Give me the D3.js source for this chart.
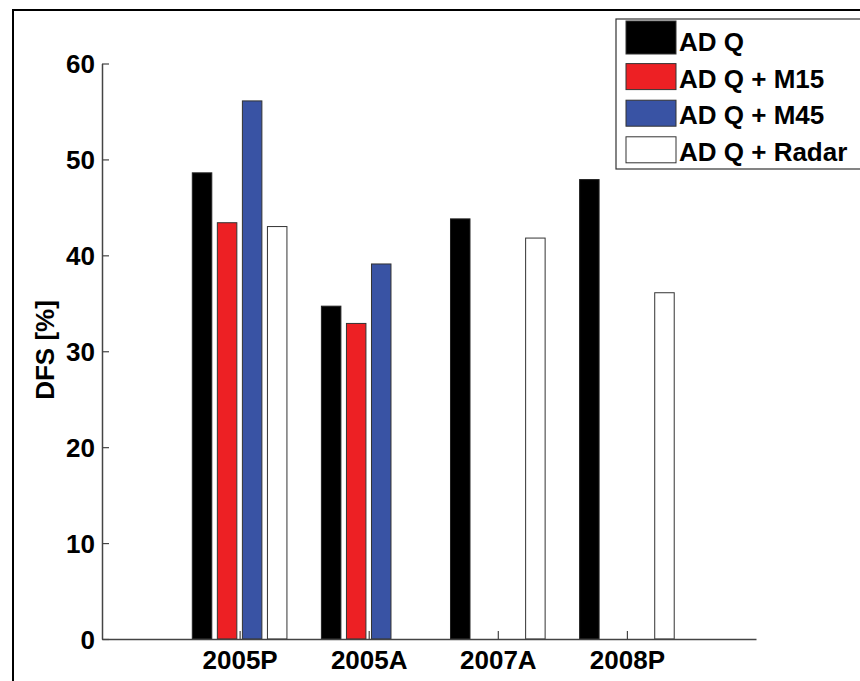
<!DOCTYPE html>
<html><head><meta charset="utf-8">
<script src="https://cdn.jsdelivr.net/npm/d3@7"></script>
<style>
html,body{margin:0;padding:0;background:#fff;}
svg{display:block;font-family:"Liberation Sans",Arial,Helvetica,sans-serif;font-weight:bold;}
</style></head>
<body>
<svg id="chart" width="860" height="681"></svg>
<script>
const categories = ["2005P", "2005A", "2007A", "2008P"];
const seriesNames = ["AD Q", "AD Q + M15", "AD Q + M45", "AD Q + Radar"];
const seriesColors = ["#000000", "#ed2024", "#3953a4", "#ffffff"];
const adq      = [48.6, 34.7, 43.8, 47.9];
const adqM15   = [43.4, 32.9, 0, 0];
const adqM45   = [56.1, 39.1, 0, 0];
const adqRadar = [43.0, 0, 41.8, 36.1];
const yTicks = [0, 10, 20, 30, 40, 50, 60];

const series = [adq, adqM15, adqM45, adqRadar];

const svg = d3.select("#chart");
const plot = {left: 102, right: 756, top: 63.5, bottom: 639};

// category index 1..4 -> pixel
const x = d3.scaleLinear().domain([-0.066, 5]).range([plot.left, plot.right]);
const y = d3.scaleLinear().domain([0, 60]).range([plot.bottom, plot.top]);

const step = 0.194, barW = 0.151;
const fs = 26;

// outer frame
svg.append("path")
  .attr("d", `M13,681 L13,10 L860,10`)
  .attr("fill", "none").attr("stroke", "#000").attr("stroke-width", 2);

// bars
series.forEach((vals, si) => {
  svg.append("g").selectAll("rect")
    .data(vals.map((v, ci) => ({v, ci})).filter(d => d.v > 0))
    .join("rect")
    .attr("x", d => x(d.ci + 1 + (si - 1.5) * step - barW / 2))
    .attr("width", d => x(barW) - x(0))
    .attr("y", d => y(d.v))
    .attr("height", d => y(0) - y(d.v))
    .attr("fill", seriesColors[si])
    .attr("stroke", si === 0 ? "#222" : "#333")
    .attr("stroke-width", 1);
});

// y axis
const yAxis = d3.axisLeft(y).tickValues(yTicks).tickSize(-7).tickPadding(14).tickSizeOuter(0);
const gy = svg.append("g").attr("transform", `translate(${plot.left},0)`).call(yAxis);
gy.select(".domain").attr("stroke", "#444").attr("stroke-width", 1.5);
gy.selectAll(".tick line").attr("stroke", "#444").attr("stroke-width", 1.2);
gy.selectAll(".tick text").attr("font-size", fs).attr("font-weight", "bold")
  .attr("font-family", "Liberation Sans, Arial, sans-serif").attr("fill", "#000").attr("x", -7).attr("dy", "0.35em");

// x axis
const xAxis = d3.axisBottom(x).tickValues([1, 2, 3, 4]).tickFormat(d => categories[d - 1])
  .tickSize(-8).tickPadding(14).tickSizeOuter(0);
const gx = svg.append("g").attr("transform", `translate(0,${plot.bottom})`).call(xAxis);
gx.select(".domain").attr("stroke", "#444").attr("stroke-width", 1.5);
gx.selectAll(".tick line").attr("stroke", "#444").attr("stroke-width", 1.2);
gx.selectAll(".tick text").attr("font-size", fs).attr("font-weight", "bold")
  .attr("font-family", "Liberation Sans, Arial, sans-serif").attr("fill", "#000").attr("y", 29.5).attr("dy", 0);

// y label
svg.append("text")
  .attr("transform", "translate(54,350) rotate(-90)")
  .attr("text-anchor", "middle")
  .attr("font-size", fs)
  .text("DFS [%]");

// legend
const lg = svg.append("g");
lg.append("rect").attr("x", 616).attr("y", 19).attr("width", 270).attr("height", 150)
  .attr("fill", "#fff").attr("stroke", "#333").attr("stroke-width", 1.2);
seriesNames.forEach((name, i) => {
  const base = 51 + i * 36.6;
  lg.append("rect").attr("x", 626).attr("y", base - (i === 0 ? 30 : 24)).attr("width", 50)
    .attr("height", i === 0 ? 33 : 26)
    .attr("fill", seriesColors[i]).attr("stroke", "#333").attr("stroke-width", 1);
  lg.append("text").attr("x", 679).attr("y", base).attr("font-size", fs).text(name);
});
</script>
</body></html>
